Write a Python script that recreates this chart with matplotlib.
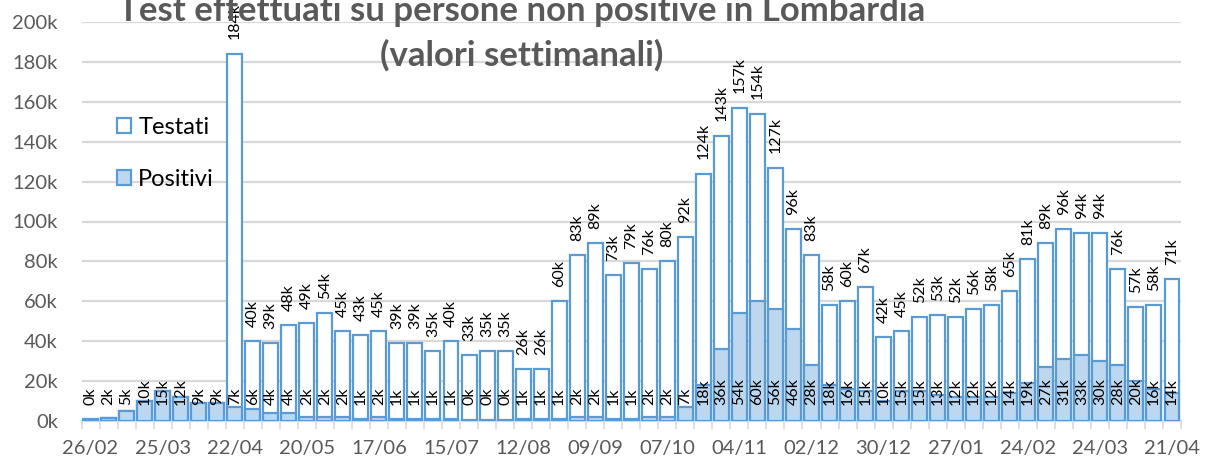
import matplotlib
matplotlib.use("Agg")
import matplotlib.pyplot as plt
from matplotlib.patches import Patch
import numpy as np

weeks = ["26/02", "04/03", "11/03", "18/03", "25/03", "01/04", "08/04", "15/04",
         "22/04", "29/04", "06/05", "13/05", "20/05", "27/05", "03/06", "10/06",
         "17/06", "24/06", "01/07", "08/07", "15/07", "22/07", "29/07", "05/08",
         "12/08", "19/08", "26/08", "02/09", "09/09", "16/09", "23/09", "30/09",
         "07/10", "14/10", "21/10", "28/10", "04/11", "11/11", "18/11", "25/11",
         "02/12", "09/12", "16/12", "23/12", "30/12", "06/01", "13/01", "20/01",
         "27/01", "03/02", "10/02", "17/02", "24/02", "03/03", "10/03", "17/03",
         "24/03", "31/03", "07/04", "14/04", "21/04"]

# thousands
testati = [1, 1.5, 5, 10, 15, 12, 9, 9,
           184, 40, 39, 48, 49, 54, 45, 43,
           45, 39, 39, 35, 40, 33, 35, 35,
           26, 26, 60, 83, 89, 73, 79, 76,
           80, 92, 124, 143, 157, 154, 127, 96,
           83, 58, 60, 67, 42, 45, 52, 53,
           52, 56, 58, 65, 81, 89, 96, 94,
           94, 76, 57, 58, 71]
positivi = [0.4, 1.5, 5, 10, 15, 12, 9, 9,
            7, 6, 4, 4, 2, 2, 2, 1,
            2, 1, 1, 1, 1, 0.4, 0.4, 0.4,
            1, 1, 1, 2, 2, 1, 1, 2,
            2, 7, 18, 36, 54, 60, 56, 46,
            28, 18, 16, 15, 10, 15, 15, 13,
            12, 12, 12, 14, 19, 27, 31, 33,
            30, 28, 20, 16, 14]
# testati label shown only where it does not coincide with the positivi one
show_testati_label = [False] * 8 + [True] * 53

yticks = list(range(0, 201, 20))
ytick_labels = [f"{v}k" for v in yticks]

title_line1 = "Test effettuati su persone non positive in Lombardia"
title_line2 = "(valori settimanali)"

FONT = ["Lato", "DejaVu Sans"]
plt.rcParams["font.family"] = FONT

BLUE = "#5B9BD5"
LIGHT = "#BDD7EE"
GRAY = "#595959"
GRID = "#D9D9D9"

fig = plt.figure(figsize=(12.06, 4.63), dpi=100)
W, H = 1206, 463
ax = fig.add_axes([81.5 / W, (H - 421) / H, (1181 - 81.5) / W, 399 / H])

x = np.arange(len(weeks))
bw = 0.83
ax.bar(x, testati, width=bw, color="white", edgecolor=BLUE, linewidth=1.6, zorder=2)
ax.bar(x, positivi, width=bw, color=LIGHT, edgecolor=BLUE, linewidth=1.6, zorder=3)

for i in range(len(weeks)):
    ax.annotate(f"{positivi[i]:.0f}k", (x[i], 0), xytext=(0, 11.5), textcoords="offset points",
                rotation=90, ha="center", va="bottom", fontsize=11.5, color="black", zorder=5,
                annotation_clip=False)
    if show_testati_label[i]:
        ax.annotate(f"{testati[i]:.0f}k", (x[i], testati[i]), xytext=(0, 10.5),
                    textcoords="offset points", rotation=90, ha="center", va="bottom",
                    fontsize=11.5, color="black", zorder=5, annotation_clip=False)

ax.set_xlim(-0.5, len(weeks) - 0.5)
ax.set_ylim(0, 200)
ax.set_yticks(yticks)
ax.set_yticklabels(ytick_labels, fontsize=14.5, color=GRAY)
ax.yaxis.grid(True, color=GRID, linewidth=1.6, zorder=0)
ax.set_axisbelow(True)
ax.yaxis.set_tick_params(which="major", length=0, pad=17)

ax.set_xticks(x[::4])
ax.set_xticklabels(weeks[::4])
ax.set_xticks(np.arange(-0.5, len(weeks)), minor=True)
ax.tick_params(axis="x", which="major", length=0, pad=14, labelsize=14.5, labelcolor=GRAY)
ax.tick_params(axis="x", which="minor", length=6, width=1.2, color=GRID, direction="out")

for s in ["top", "right", "left"]:
    ax.spines[s].set_visible(False)
ax.spines["bottom"].set_color(GRID)
ax.spines["bottom"].set_linewidth(1.6)

handles = [Patch(facecolor="white", edgecolor=BLUE, linewidth=1.6),
           Patch(facecolor=LIGHT, edgecolor=BLUE, linewidth=1.6)]
leg = ax.legend(handles, ["Testati", "Positivi"], loc="upper left",
                bbox_to_anchor=(35 / 1099.5, (421 - 117) / 399), frameon=False,
                fontsize=17, handlelength=0.62, handleheight=0.62, handletextpad=0.3,
                labelspacing=1.3, borderaxespad=0, borderpad=0)

fig.text(522 / W, 1 - 21 / H, title_line1, ha="center", va="baseline", fontsize=25,
         fontweight="bold", color=GRAY, zorder=1)
fig.text(522 / W, 1 - 66 / H, title_line2, ha="center", va="baseline", fontsize=25,
         fontweight="bold", color=GRAY, zorder=1)

fig.savefig("out.png", dpi=100)
